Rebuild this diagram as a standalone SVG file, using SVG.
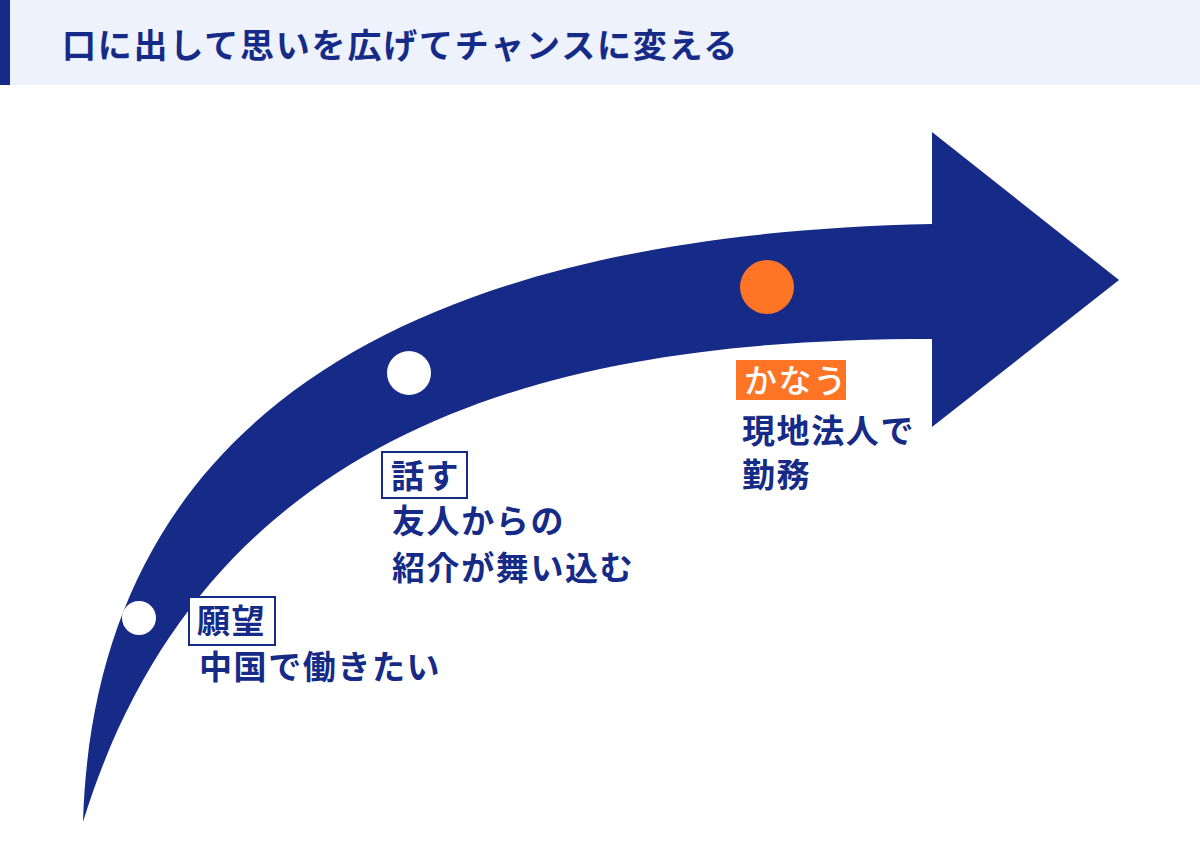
<svg xmlns="http://www.w3.org/2000/svg" width="1200" height="868" viewBox="0 0 1200 868">
<style>
.navy{fill:#152B87}
.t{font-family:"Noto Sans CJK JP","Noto Sans",sans-serif;font-weight:700;fill:#152B87;font-size:33px;letter-spacing:1.6px}
.box{fill:#fff;stroke:#152B87;stroke-width:2}
</style>
<rect width="1200" height="868" fill="#fff"/>
<g id="header">
<rect x="0" y="0" width="1200" height="85" fill="#EEF2FD"/>
<rect x="0" y="0" width="10" height="85" class="navy"/>
<text x="62" y="58" class="t" style="font-size:34px;letter-spacing:1.8px">口に出して思いを広げてチャンスに変える</text>
</g>
<g id="arrow">
<path class="navy" d="M83,822 C95,430 390,235 932,224 L932,132 L1119,280 L932,427 L932,339 C580,339 210,410 83,822 Z"/>
</g>
<g id="node-wish">
<circle cx="139" cy="618" r="17" fill="#fff"/>
<rect x="189" y="597" width="86" height="48" class="box"/>
<text x="197" y="633" class="t">願望</text>
<text x="199" y="679" class="t">中国で働きたい</text>
</g>
<g id="node-talk">
<circle cx="409" cy="373" r="22" fill="#fff"/>
<rect x="382" y="452" width="85" height="46" class="box"/>
<text x="391" y="488" class="t">話す</text>
<text x="392" y="533" class="t">友人からの</text>
<text x="392" y="580" class="t">紹介が舞い込む</text>
</g>
<g id="node-come-true">
<circle cx="767" cy="287" r="27" fill="#FF7425"/>
<rect x="736" y="360" width="110" height="40" fill="#FF7425"/>
<text x="744" y="393" class="t" style="fill:#fff;font-weight:500">かなう</text>
<text x="742" y="443" class="t">現地法人で</text>
<text x="742" y="487" class="t">勤務</text>
</g>
<g id="connectors"></g>
</svg>
